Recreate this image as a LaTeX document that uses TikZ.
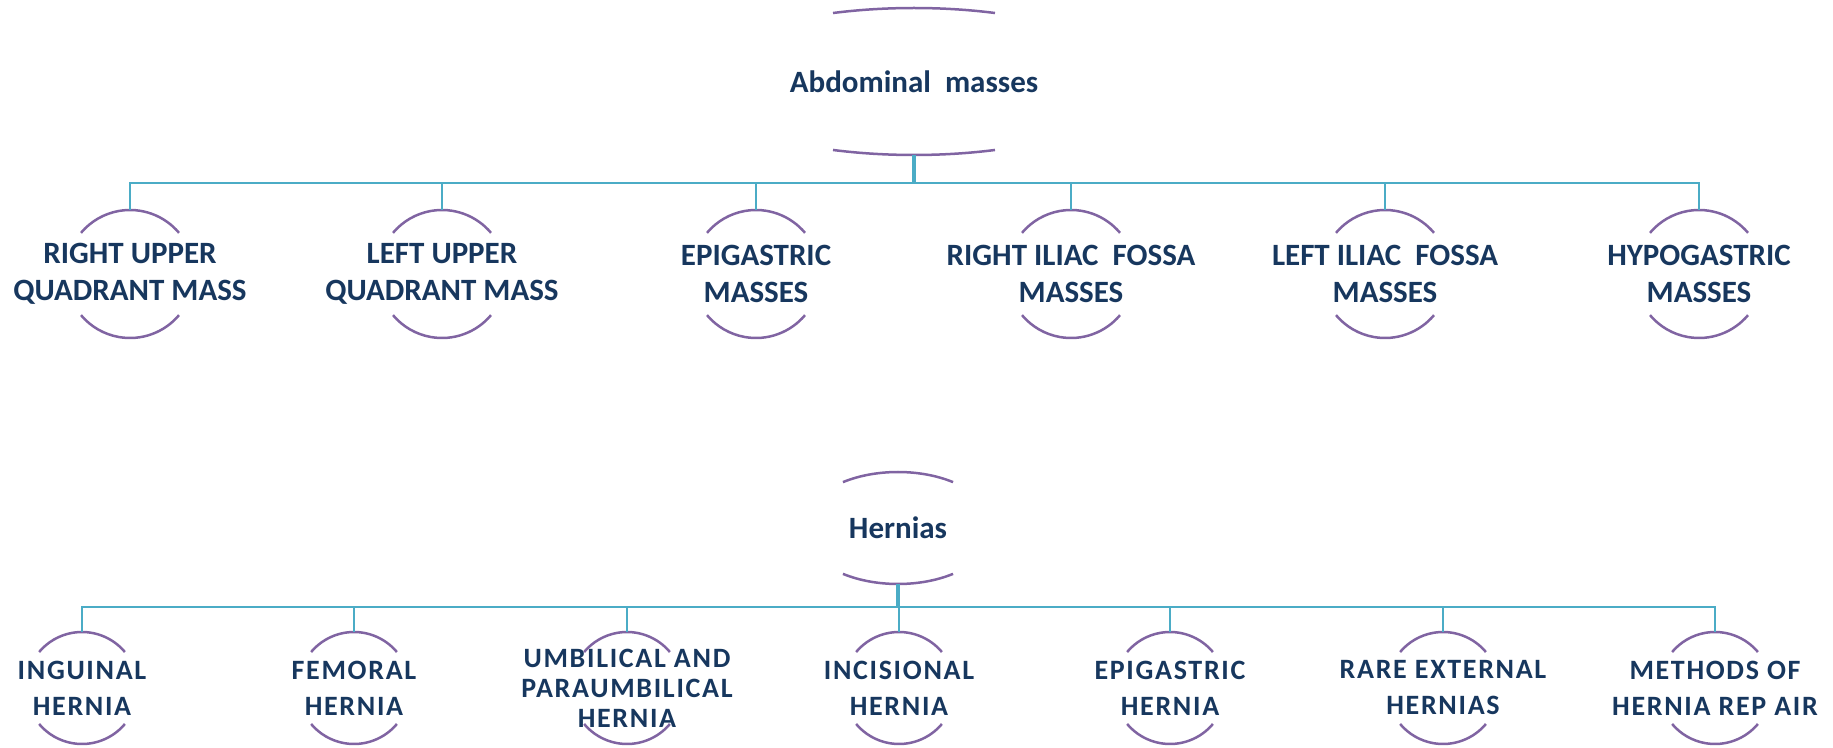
\documentclass[tikz,border=0pt]{standalone}
\usepackage{fontspec}
\setmainfont{Carlito}
\newfontfamily\trackedfont[LetterSpace=6]{Carlito}
\usepackage{tikz}
\usetikzlibrary{
  shapes.geometric,
}
\definecolor{textnavy}{HTML}{17375E}
\definecolor{arcpurple}{HTML}{8064A2}
\definecolor{linkteal}{HTML}{4BACC6}

\begin{document}
\begin{tikzpicture}[
    x=1pt, y=1pt,
    rootnode/.style={ellipse, inner sep=0pt, text=textnavy,
                     font=\fontsize{31}{37}\selectfont\bfseries},
    bignode/.style={circle, minimum size=128pt, inner sep=0pt},
    smallnode/.style={circle, minimum size=112pt, inner sep=0pt},
    biglbl/.style={align=center, inner sep=0pt, text=textnavy,
                   font=\fontsize{31}{37}\selectfont\bfseries},
    smalllbl/.style={align=center, inner sep=0pt, text=textnavy,
                     font=\trackedfont\fontsize{28}{36}\selectfont\bfseries},
    tightlbl/.style={smalllbl, font=\trackedfont\fontsize{28}{30}\selectfont\bfseries},
    rim/.style={draw=arcpurple, line width=2.5pt},
    link/.style={draw=linkteal, line width=2.5pt},
    trunk/.style={draw=linkteal, line width=3.5pt},
  ]
  \useasboundingbox (0,0) rectangle (1833,747);

  % Abdominal masses
  \node[rootnode, minimum width=446pt, minimum height=147pt] (abd) at (914,665.5) {Abdominal\ \ masses};
  \node[bignode, label={[biglbl]center:{RIGHT UPPER\\QUADRANT MASS}}] (ruq) at (130,473) {};
  \node[bignode, label={[biglbl]center:{LEFT UPPER\\QUADRANT MASS}}]  (luq) at (442,473) {};
  \node[bignode, label={[biglbl]center:{EPIGASTRIC\\MASSES}}]         (epi) at (756,473) {};
  \node[bignode, label={[biglbl]center:{RIGHT ILIAC\ \ FOSSA\\MASSES}}] (rif) at (1071,473) {};
  \node[bignode, label={[biglbl]center:{LEFT ILIAC\ \ FOSSA\\MASSES}}]  (lif) at (1385,473) {};
  \node[bignode, label={[biglbl]center:{HYPOGASTRIC\\MASSES}}]        (hyp) at (1699,473) {};

  % Hernias
  \node[rootnode, minimum width=192pt, minimum height=112pt] (her) at (898,219) {Hernias};
  \node[smallnode, label={[smalllbl]center:{INGUINAL\\HERNIA}}]        (ing)  at (82,59) {};
  \node[smallnode, label={[smalllbl]center:{FEMORAL\\HERNIA}}]         (fem)  at (354,59) {};
  \node[smallnode, label={[tightlbl]center:{UMBILICAL AND\\PARAUMBILICAL\\HERNIA}}] (umb) at (627,59) {};
  \node[smallnode, label={[smalllbl]center:{INCISIONAL\\HERNIA}}]      (inc)  at (899,59) {};
  \node[smallnode, label={[smalllbl]center:{EPIGASTRIC\\HERNIA}}]      (epih) at (1170,59) {};
  \node[smallnode, label={[smalllbl]center:{RARE EXTERNAL\\HERNIAS}}]  (rare) at (1443,59) {};
  \node[smallnode, label={[smalllbl]center:{METHODS OF\\HERNIA REP AIR}}] (rep) at (1715,59) {};

  % rims
  \draw[rim] ([shift={(68.7:223 and 73.5)}]abd.center) arc[start angle=68.7, end angle=111.3, x radius=223, y radius=73.5];
  \draw[rim] ([shift={(-68.7:223 and 73.5)}]abd.center) arc[start angle=-68.7, end angle=-111.3, x radius=223, y radius=73.5];
  \draw[rim] ([shift={(55:96 and 56)}]her.center) arc[start angle=55, end angle=125, x radius=96, y radius=56];
  \draw[rim] ([shift={(-55:96 and 56)}]her.center) arc[start angle=-55, end angle=-125, x radius=96, y radius=56];
  \foreach \n in {ruq,luq,epi,rif,lif,hyp}{
    \draw[rim] ([shift={(40:64)}]\n.center) arc[start angle=40, end angle=140, radius=64];
    \draw[rim] ([shift={(-40:64)}]\n.center) arc[start angle=-40, end angle=-140, radius=64];
  }
  \foreach \n in {ing,fem,umb,inc,epih,rare,rep}{
    \draw[rim] ([shift={(40:56)}]\n.center) arc[start angle=40, end angle=140, radius=56];
    \draw[rim] ([shift={(-40:56)}]\n.center) arc[start angle=-40, end angle=-140, radius=56];
  }

  % connectors
  \coordinate (abdbus) at ([yshift=-28pt]abd.south);
  \draw[trunk] (abd.south) -- (abdbus);
  \foreach \n in {ruq,luq,epi,rif,lif,hyp}
    \draw[link] (abdbus) -| (\n.north);

  \coordinate (herbus) at ([yshift=-23pt]her.south);
  \draw[trunk] (her.south) -- (herbus);
  \foreach \n in {ing,fem,umb,inc,epih,rare,rep}
    \draw[link] (herbus) -| (\n.north);
\end{tikzpicture}
\end{document}
